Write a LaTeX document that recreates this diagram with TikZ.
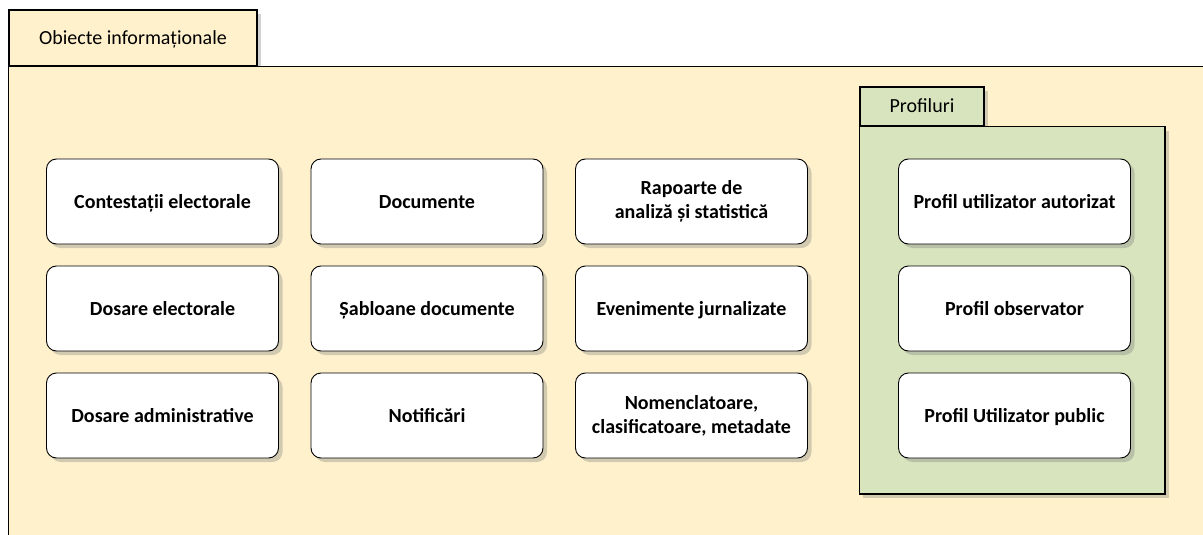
\documentclass[tikz,border=0pt]{standalone}
\usepackage{fontspec}
\setmainfont{Carlito}
\usetikzlibrary{shadows, positioning}
\definecolor{pkgcream}{HTML}{FFF1CC}
\definecolor{pkggreen}{HTML}{D7E4BD}

\begin{document}
\begin{tikzpicture}[x=1pt,y=-1pt]
            \tikzstyle{pkgshadow} = [drop shadow={opacity=0.35, shadow xshift=4pt, shadow yshift=-4pt}]
            \tikzstyle{tab}  = [draw, line width=1.1pt, inner sep=0pt, text height=13pt, text depth=0pt, font=\fontsize{20}{24}\selectfont, pkgshadow]
            \tikzstyle{pkg}  = [draw, line width=1.1pt, pkgshadow]
            \tikzstyle{obj}  = [draw, line width=0.9pt, fill=white, rounded corners=10pt, minimum width=232pt, minimum height=85pt, inner sep=0pt, align=center, font=\fontsize{20}{24}\selectfont\bfseries, pkgshadow]
            \tikzstyle{objone} = [obj, text height=13pt, text depth=0pt]

            \clip (0,0) rectangle (1203,535);
            \fill[white] (0,0) rectangle (1203,535);

            % Outer package .........................
            \node[tab, fill=pkgcream, minimum width=248pt, minimum height=56pt] (objtab) at (133,38) {Obiecte informaționale};
            \draw[pkg, fill=pkgcream] (objtab.south west) rectangle ++(1230,520);

            % Objects .........................
            \node[objone] (contest)  at (162.5,201.5) {Contestații electorale};
            \node[objone] (docs)     at (427,201.5)   {Documente};
            \node[obj]    (rapoarte) at (691.5,201.5) {Rapoarte de\\analiză și statistică};

            \node[objone] (dosel)    at (162.5,308.5) {Dosare electorale};
            \node[objone] (sabloane) at (427,308.5)   {Șabloane documente};
            \node[objone] (evenim)   at (691.5,308.5) {Evenimente jurnalizate};

            \node[objone] (dosadm)   at (162.5,415.5) {Dosare administrative};
            \node[objone] (notif)    at (427,415.5)   {Notificări};
            \node[obj]    (nomencl)  at (691.5,415.5) {Nomenclatoare,\\clasificatoare, metadate};

            % Profiles package .........................
            \node[tab, fill=pkggreen, minimum width=124pt, minimum height=39pt] (proftab) at (922,106.5) {Profiluri};
            \draw[pkg, fill=pkggreen] (proftab.south west) rectangle (1165,494);

            \node[objone] (profaut) at (1014.5,201.5) {Profil utilizator autorizat};
            \node[objone] (profobs) at (1014.5,308.5) {Profil observator};
            \node[objone] (profpub) at (1014.5,415.5) {Profil Utilizator public};

        \end{tikzpicture}
\end{document}
